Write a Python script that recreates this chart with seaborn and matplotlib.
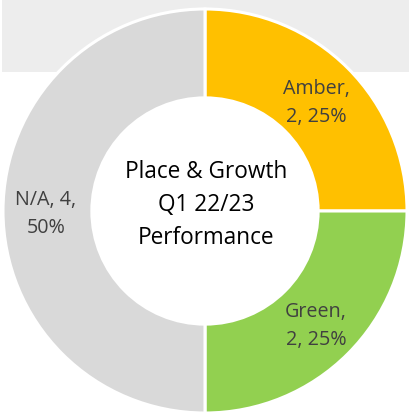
import matplotlib
matplotlib.use("Agg")
import matplotlib.pyplot as plt
import seaborn as sns
from matplotlib.patches import Rectangle

categories = ["Amber", "Green", "N/A"]
values = [2, 2, 4]
percents = ["25%", "25%", "50%"]
colors = ["#FFC000", "#92D050", "#D9D9D9"]
center_title = "Place & Growth\nQ1 22/23\nPerformance"

sns.set_style("white")
plt.rcParams["font.family"] = ["Open Sans", "DejaVu Sans"]

W, H = 409, 414
fig = plt.figure(figsize=(W / 100, H / 100), dpi=100)
ax = fig.add_axes([0, 0, 1, 1])
cx, cy, R = 205, 212, 202  # pixel centre and radius

wedges, _ = ax.pie(values, colors=sns.color_palette(colors), startangle=90,
                   counterclock=False, radius=1.0,
                   wedgeprops=dict(width=0.44, edgecolor="white", linewidth=2.2))
for w in wedges:
    w.set_zorder(2)

ax.set_xlim(-cx / R, (W - cx) / R)
ax.set_ylim(-(H - cy) / R, cy / R)
ax.set_aspect("equal")
ax.axis("off")

# grey header band
ax.add_patch(Rectangle((2 / R - cx / R, (cy - 73) / R), (W - 2) / R, 80 / R,
                       facecolor="#EDEDED", edgecolor="none", zorder=0))

def px(x, y):
    return ((x - cx) / R, (cy - y) / R)

label_pos = [(316, 103), (316, 326), (46, 214)]
for cat, v, p, pos in zip(categories, values, percents, label_pos):
    if cat == "N/A":
        txt = f"{cat}, {v},\n{p}"
    else:
        txt = f"{cat},\n{v}, {p}"
    ax.text(*px(*pos), txt, ha="center", va="center", fontsize=14.2,
            color="#404040", linespacing=1.55, zorder=3)

ax.text(*px(206, 205), center_title, ha="center", va="center", fontsize=16.3,
        color="#000000", linespacing=1.5, zorder=3)

fig.savefig("out.png", dpi=100)
